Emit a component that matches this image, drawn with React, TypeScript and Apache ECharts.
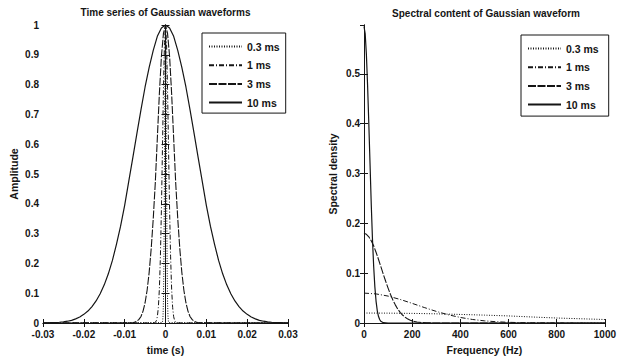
import React, { useEffect, useRef } from "react";
import * as echarts from "echarts";

// ---- Left panel: time series (time in s, amplitude) ----
const time10 = [
  -0.03, -0.029, -0.028, -0.027, -0.026, -0.025, -0.024, -0.023, -0.022, -0.021,
  -0.02, -0.019, -0.018, -0.017, -0.016, -0.015, -0.014, -0.013, -0.012, -0.011,
  -0.01, -0.009, -0.008, -0.007, -0.006, -0.005, -0.004, -0.003, -0.002, -0.001,
  0, 0.001, 0.002, 0.003, 0.004, 0.005, 0.006, 0.007, 0.008, 0.009,
  0.01, 0.011, 0.012, 0.013, 0.014, 0.015, 0.016, 0.017, 0.018, 0.019,
  0.02, 0.021, 0.022, 0.023, 0.024, 0.025, 0.026, 0.027, 0.028, 0.029, 0.03,
];
const amp10 = [
  0.0003, 0.0005, 0.001, 0.0015, 0.0025, 0.004, 0.006, 0.009, 0.014, 0.02,
  0.029, 0.04, 0.055, 0.074, 0.098, 0.128, 0.165, 0.21, 0.265, 0.325,
  0.395, 0.475, 0.555, 0.636, 0.716, 0.792, 0.858, 0.915, 0.962, 0.99,
  1, 0.99, 0.962, 0.915, 0.858, 0.792, 0.716, 0.636, 0.555, 0.475,
  0.395, 0.325, 0.265, 0.21, 0.165, 0.128, 0.098, 0.074, 0.055, 0.04,
  0.029, 0.02, 0.014, 0.009, 0.006, 0.004, 0.0025, 0.0015, 0.001, 0.0005, 0.0003,
];

const time3 = [
  -0.03, -0.008, -0.0075, -0.007, -0.0065, -0.006, -0.0055, -0.005, -0.0045, -0.004,
  -0.0035, -0.003, -0.0025, -0.002, -0.0015, -0.001, -0.0005, 0, 0.0005, 0.001,
  0.0015, 0.002, 0.0025, 0.003, 0.0035, 0.004, 0.0045, 0.005, 0.0055, 0.006,
  0.0065, 0.007, 0.0075, 0.008, 0.03,
];
const amp3 = [
  0, 0.001, 0.003, 0.006, 0.012, 0.022, 0.04, 0.068, 0.11, 0.17,
  0.25, 0.35, 0.47, 0.62, 0.77, 0.895, 0.972, 1, 0.972, 0.895,
  0.77, 0.62, 0.47, 0.35, 0.25, 0.17, 0.11, 0.068, 0.04, 0.022,
  0.012, 0.006, 0.003, 0.001, 0,
];

const time1 = [
  -0.03, -0.003, -0.00275, -0.0025, -0.00225, -0.002, -0.00175, -0.0015, -0.00125, -0.001,
  -0.00075, -0.0005, -0.00025, 0, 0.00025, 0.0005, 0.00075, 0.001, 0.00125, 0.0015,
  0.00175, 0.002, 0.00225, 0.0025, 0.00275, 0.003, 0.03,
];
const amp1 = [
  0, 0.0002, 0.0007, 0.0024, 0.0076, 0.021, 0.052, 0.114, 0.222, 0.381,
  0.581, 0.786, 0.941, 1, 0.941, 0.786, 0.581, 0.381, 0.222, 0.114,
  0.052, 0.021, 0.0076, 0.0024, 0.0007, 0.0002, 0,
];

const time03 = [
  -0.03, -0.0008, -0.0007, -0.0006, -0.0005, -0.0004, -0.0003, -0.0002, -0.0001, 0,
  0.0001, 0.0002, 0.0003, 0.0004, 0.0005, 0.0006, 0.0007, 0.0008, 0.03,
];
const amp03 = [
  0, 0.0013, 0.0063, 0.024, 0.076, 0.19, 0.395, 0.66, 0.9, 1,
  0.9, 0.66, 0.395, 0.19, 0.076, 0.024, 0.0063, 0.0013, 0,
];

// ---- Right panel: spectral density (frequency in Hz) ----
const freq10 = [0, 5, 10, 15, 20, 25, 30, 35, 40, 45, 50, 55, 60, 65, 70, 80, 100, 1000];
const spec10 = [0.595, 0.58, 0.538, 0.475, 0.4, 0.32, 0.24, 0.17, 0.115, 0.073, 0.044, 0.025, 0.0135, 0.007, 0.0034, 0.0007, 0, 0];

const freq3 = [0, 10, 20, 30, 40, 50, 60, 70, 80, 90, 100, 110, 120, 130, 140, 150, 160, 170, 180, 190, 200, 220, 240, 260, 300, 1000];
const spec3 = [0.18, 0.178, 0.173, 0.165, 0.155, 0.142, 0.128, 0.113, 0.098, 0.0837, 0.07, 0.0573, 0.046, 0.0364, 0.028, 0.0214, 0.016, 0.0117, 0.0084, 0.0059, 0.0041, 0.0019, 0.0008, 0.0003, 0, 0];

const freq1 = [0, 50, 100, 150, 200, 250, 300, 350, 400, 450, 500, 550, 600, 650, 700, 800, 1000];
const spec1 = [0.06, 0.0584, 0.054, 0.0473, 0.0394, 0.0311, 0.0233, 0.0165, 0.0111, 0.0071, 0.0043, 0.0025, 0.0014, 0.0007, 0.0003, 0.0001, 0];

const freq03 = [0, 100, 200, 300, 400, 500, 600, 700, 800, 900, 1000];
const spec03 = [0.02, 0.0198, 0.0193, 0.0184, 0.0172, 0.0158, 0.0142, 0.012, 0.01, 0.0085, 0.007];

const legendNames = ["0.3 ms", "1 ms", "3 ms", "10 ms"];
const xTicksTime = { min: -0.03, max: 0.03, interval: 0.01 };
const yTicksAmp = { min: 0, max: 1, interval: 0.1 };
const xTicksFreq = { min: 0, max: 1000, interval: 200 };
const yTicksSpec = { min: 0, max: 0.598, interval: 0.1 };

const FONT = '"Liberation Sans", Arial, Helvetica, sans-serif';
const INK = "#151515";

const lineStyles: any[] = [
  { type: [1, 1.5], width: 1 },
  { type: [5, 2, 1, 2], width: 1 },
  { type: [8, 1.5], width: 1.1 },
  { type: "solid", width: 1.2 },
];

function zip(xs: number[], ys: number[]) {
  return xs.map((x, i) => [x, ys[i]]);
}

export default function App() {
  const ref = useRef<HTMLDivElement>(null);
  useEffect(() => {
    document.body.style.margin = "0";
    const chart = echarts.init(ref.current!, undefined, { renderer: "svg" });

    const axisLine = { show: true, lineStyle: { color: INK, width: 1 } };
    const tick = { show: true, inside: true, length: 4, lineStyle: { color: INK, width: 1 } };
    const label = { color: INK, fontSize: 10, fontFamily: FONT, fontWeight: "bold" as const };
    const nameStyle = { color: INK, fontSize: 10.5, fontFamily: FONT, fontWeight: "bold" as const };

    const fmt = (d: number) => (v: number) => {
      if (Math.abs(v) < 1e-9) return "0";
      if (Math.abs(v - 1) < 1e-9) return "1";
      return v.toFixed(d);
    };

    const leftLeft = 43, leftTop = 25, leftW = 245, leftH = 298;
    const rightLeft = 364, rightTop = 25, rightW = 244, rightH = 299;

    const mkSeries = (names: string[], data: number[][][], axisIdx: number) =>
      names.map((n, i) => ({
        name: n,
        type: "line",
        xAxisIndex: axisIdx,
        yAxisIndex: axisIdx,
        data: data[i],
        showSymbol: false,
        symbol: "none",
        lineStyle: { color: INK, ...lineStyles[i] },
        itemStyle: { color: INK },
        clip: true,
        z: 3,
      }));

    const legendBase = {
      orient: "vertical",
      data: legendNames,
      selectedMode: false,
      borderColor: INK,
      borderWidth: 1,
      backgroundColor: "#fff",
      itemWidth: 33,
      itemHeight: 10,
      itemGap: 7.7,
      itemStyle: { opacity: 0, borderWidth: 0 },
      textStyle: { color: INK, fontSize: 10.5, fontFamily: FONT, fontWeight: "bold" },
    };

    chart.setOption({
      animation: false,
      backgroundColor: "#fff",
      grid: [
        { left: leftLeft, top: leftTop, width: leftW, height: leftH, containLabel: false },
        { left: rightLeft, top: rightTop, width: rightW, height: rightH, containLabel: false },
      ],
      xAxis: [
        {
          type: "value", gridIndex: 0, position: "bottom", ...xTicksTime,
          axisLine, axisTick: tick, splitLine: { show: false },
          axisLabel: { ...label, margin: 6, formatter: fmt(2) },
          name: "time (s)", nameLocation: "middle", nameGap: 21, nameTextStyle: nameStyle,
        },
        {
          type: "value", gridIndex: 0, position: "top", ...xTicksTime,
          axisLine, axisTick: tick, splitLine: { show: false }, axisLabel: { show: false },
        },
        {
          type: "value", gridIndex: 1, position: "bottom", ...xTicksFreq,
          axisLine, axisTick: tick, splitLine: { show: false },
          axisLabel: { ...label, margin: 6, formatter: (v: number) => String(Math.round(v)) },
          name: "Frequency (Hz)", nameLocation: "middle", nameGap: 21, nameTextStyle: nameStyle,
        },
        {
          type: "value", gridIndex: 1, position: "top", ...xTicksFreq,
          axisLine, axisTick: tick, splitLine: { show: false }, axisLabel: { show: false },
        },
      ],
      yAxis: [
        {
          type: "value", gridIndex: 0, position: "left", ...yTicksAmp,
          axisLine, axisTick: tick, splitLine: { show: false },
          axisLabel: { ...label, margin: 4, formatter: fmt(1) },
          name: "Amplitude", nameLocation: "middle", nameGap: 24, nameTextStyle: nameStyle,
        },
        {
          type: "value", gridIndex: 0, position: "right", ...yTicksAmp,
          axisLine, axisTick: tick, splitLine: { show: false }, axisLabel: { show: false },
        },
        {
          type: "value", gridIndex: 1, position: "left", ...yTicksSpec,
          axisLine, axisTick: tick, splitLine: { show: false },
          axisLabel: { ...label, margin: 4, showMaxLabel: false, formatter: fmt(1) },
          name: "Spectral density", nameLocation: "middle", nameGap: 26, nameTextStyle: nameStyle,
        },
        {
          type: "value", gridIndex: 1, position: "right", ...yTicksSpec,
          axisLine, axisTick: tick, splitLine: { show: false }, axisLabel: { show: false },
        },
      ],
      legend: [
        { ...legendBase, left: 202, top: 33, padding: [8, 6, 5, 6] },
        { ...legendBase, left: 521, top: 35, padding: [8, 10, 6, 6] },
      ],
      graphic: [
        {
          type: "text", x: leftLeft + leftW / 2, y: 12.5,
          style: { text: "Time series of Gaussian waveforms", align: "center", verticalAlign: "middle", fill: INK, font: `bold 10px ${FONT}` },
        },
        {
          type: "text", x: 486, y: 13.5,
          style: { text: "Spectral content of Gaussian waveform", align: "center", verticalAlign: "middle", fill: INK, font: `bold 10px ${FONT}` },
        },
      ],
      series: [
        ...mkSeries(legendNames, [zip(time03, amp03), zip(time1, amp1), zip(time3, amp3), zip(time10, amp10)], 0),
        ...mkSeries(legendNames, [zip(freq03, spec03), zip(freq1, spec1), zip(freq3, spec3), zip(freq10, spec10)], 2),
      ],
    });

    return () => chart.dispose();
  }, []);

  return <div ref={ref} style={{ width: 619, height: 360 }} />;
}
